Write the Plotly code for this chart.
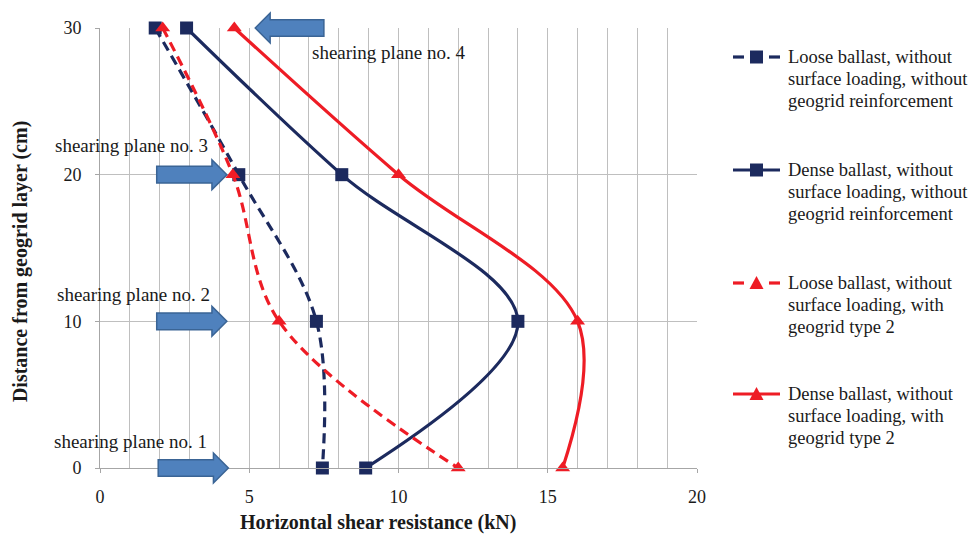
import plotly.graph_objects as go

# ---- data ----
distance = [30, 20, 10, 0]
loose_plain = [1.85, 4.65, 7.25, 7.45]
dense_plain = [2.9, 8.1, 14.0, 8.9]
loose_geo = [2.1, 4.45, 6.0, 12.0]
dense_geo = [4.5, 10.0, 16.0, 15.5]

series_lines = [
    ["Loose ballast, without", "surface loading, without", "geogrid reinforcement"],
    ["Dense ballast, without", "surface loading, without", "geogrid reinforcement"],
    ["Loose ballast, without", "surface loading, with", "geogrid type 2"],
    ["Dense ballast, without", "surface loading, with", "geogrid type 2"],
]

x_ticks = [0, 5, 10, 15, 20]
y_ticks = [0, 10, 20, 30]
X_MAX = 20
Y_MAX = 30

x_title = "Horizontal shear resistance (kN)"
y_title = "Distance from geogrid layer (cm)"

plane_labels = ["shearing plane no. 1", "shearing plane no. 2",
                "shearing plane no. 3", "shearing plane no. 4"]
plane_label_x = [-1.6, -1.5, -1.58, 7.05]
plane_label_y = [1.8, 11.8, 22.0, 28.3]

arrow_y = [0, 10, 20, 30]
arrow_tail = [1.95, 1.9, 1.9, 7.5]
arrow_tip = [4.3, 4.25, 4.25, 5.2]

NAVY = "#1C2A5E"
RED = "#EE1C25"
FONT = "Times New Roman, Liberation Serif, serif"
TXT = "#1a1a1a"
DASH = "10px,6px"

W, H = 971, 535
ML, MR, MT, MB = 100, 274, 28, 67
PW, PH = W - ML - MR, H - MT - MB


def px_x(x):
    return (x - ML) / PW


def px_y(y):
    return 1 - (y - MT) / PH


fig = go.Figure()

styles = [
    (loose_plain, NAVY, "dash", "square"),
    (dense_plain, NAVY, "solid", "square"),
    (loose_geo, RED, "dash", "triangle-up"),
    (dense_geo, RED, "solid", "triangle-up"),
]
names = [" ".join(l) for l in series_lines]
for i, (vals, col, dash, sym) in enumerate(styles):
    fig.add_trace(go.Scatter(
        x=vals, y=distance, name=names[i], showlegend=False,
        mode="lines+markers",
        line=dict(color=col, width=3.2, dash=DASH if dash == "dash" else "solid",
                  shape="spline", smoothing=1),
        marker=dict(symbol=sym, size=13, color=col),
        cliponaxis=False,
    ))

# block arrows (paper coordinates so they are not clipped at the plot edge)
body_h = 0.019
head_h = 0.034
head_len = 0.025
for y, xt, xp in zip(arrow_y, arrow_tail, arrow_tip):
    yp = y / Y_MAX
    xtp = xt / X_MAX
    xpp = xp / X_MAX
    d = 1 if xpp > xtp else -1
    xb = xpp - d * head_len
    path = (f"M {xtp},{yp - body_h} L {xb},{yp - body_h} L {xb},{yp - head_h} "
            f"L {xpp},{yp} L {xb},{yp + head_h} L {xb},{yp + body_h} "
            f"L {xtp},{yp + body_h} Z")
    fig.add_shape(type="path", path=path, xref="paper", yref="paper",
                  fillcolor="#4F81BD", line=dict(color="#3A6495", width=1.5),
                  layer="above")

for t, x, y in zip(plane_labels, plane_label_x, plane_label_y):
    fig.add_annotation(text=t, x=x / X_MAX, y=y / Y_MAX, xref="paper", yref="paper",
                       xanchor="left", yanchor="middle", showarrow=False,
                       font=dict(family=FONT, size=19, color=TXT))

# axis titles
fig.add_annotation(text=f"<b>{x_title}</b>", x=0.466, y=-0.123,
                   xref="paper", yref="paper", xanchor="center", yanchor="middle",
                   showarrow=False, font=dict(family=FONT, size=20, color=TXT))
fig.add_annotation(text=f"<b>{y_title}</b>", x=-0.134, y=0.468, textangle=-90,
                   xref="paper", yref="paper", xanchor="center", yanchor="middle",
                   showarrow=False, font=dict(family=FONT, size=20, color=TXT))

# legend (drawn by hand for Excel-like tight line spacing)
leg_top = [57, 170, 283, 394]
line_gap = 22
sym_x0, sym_x1, text_x = 733, 780, 786
for (vals, col, dash, sym), lines, yt in zip(styles, series_lines, leg_top):
    y0 = px_y(yt)
    if dash == "solid":
        segs = [(sym_x0, sym_x1)]
    else:
        segs = [(sym_x0, sym_x0 + 11), (sym_x1 - 11, sym_x1)]
    for a, b in segs:
        fig.add_shape(type="line", xref="paper", yref="paper",
                      x0=px_x(a), x1=px_x(b), y0=y0, y1=y0,
                      line=dict(color=col, width=3.2))
    cx = (sym_x0 + sym_x1) / 2
    if sym == "square":
        fig.add_shape(type="rect", xref="paper", yref="paper",
                      x0=px_x(cx - 6.5), x1=px_x(cx + 6.5),
                      y0=px_y(yt + 6.5), y1=px_y(yt - 6.5),
                      fillcolor=col, line=dict(width=0))
    else:
        path = (f"M {px_x(cx - 7)},{px_y(yt + 6)} L {px_x(cx + 7)},{px_y(yt + 6)} "
                f"L {px_x(cx)},{px_y(yt - 7)} Z")
        fig.add_shape(type="path", xref="paper", yref="paper", path=path,
                      fillcolor=col, line=dict(width=0))
    for k, txt in enumerate(lines):
        fig.add_annotation(text=txt, x=px_x(text_x), y=px_y(yt + k * line_gap),
                           xref="paper", yref="paper", xanchor="left",
                           yanchor="middle", showarrow=False,
                           font=dict(family=FONT, size=18.5, color=TXT))

fig.update_layout(
    width=W, height=H,
    margin=dict(l=ML, r=MR, t=MT, b=MB, autoexpand=False),
    paper_bgcolor="white", plot_bgcolor="white",
    font=dict(family=FONT, size=18, color=TXT),
    showlegend=False,
    xaxis=dict(range=[0, X_MAX], tickvals=x_ticks, showgrid=True,
               gridcolor="#BFBFBF", gridwidth=1,
               minor=dict(dtick=1, showgrid=True, gridcolor="#BFBFBF", gridwidth=1),
               showline=True, linecolor="#A6A6A6", ticks="outside",
               ticklen=4, tickcolor="#A6A6A6", zeroline=False,
               tickfont=dict(family=FONT, size=18, color=TXT),
               ticklabelstandoff=8),
    yaxis=dict(range=[0, Y_MAX], tickvals=y_ticks, showgrid=True,
               gridcolor="#BFBFBF", gridwidth=1,
               showline=True, linecolor="#A6A6A6", ticks="outside",
               ticklen=4, tickcolor="#A6A6A6", zeroline=False,
               tickfont=dict(family=FONT, size=18, color=TXT),
               ticklabelstandoff=10),
)

fig.write_html("out.html", config={"displayModeBar": False},
               post_script="document.body.style.margin='0';")
